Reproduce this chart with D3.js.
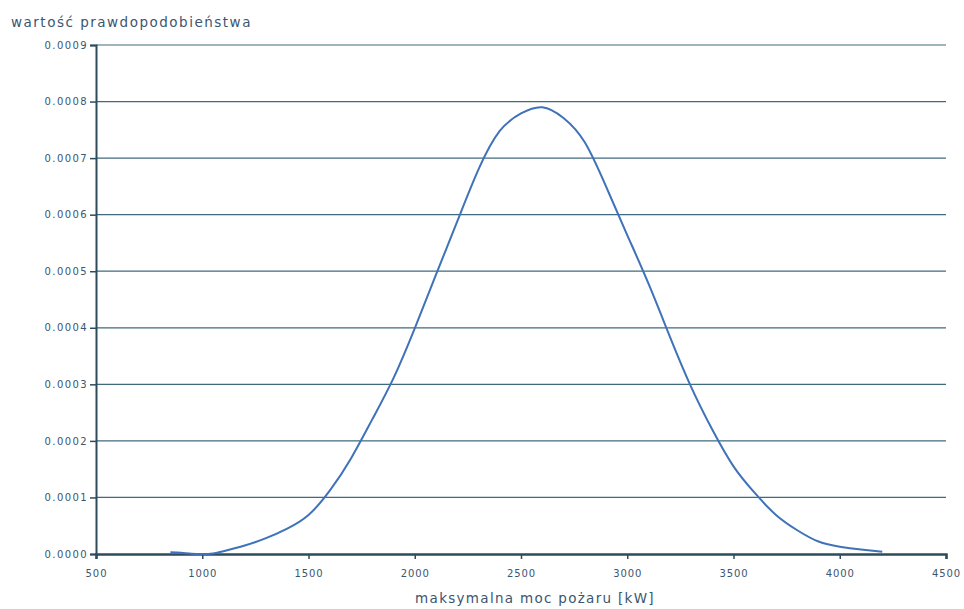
<!DOCTYPE html>
<html>
<head>
<meta charset="utf-8">
<script src="https://cdn.jsdelivr.net/npm/d3@7"></script>
<style>
  html, body { margin: 0; padding: 0; background: #ffffff; }
  svg { display: block; }
  text { font-family: "DejaVu Sans", sans-serif; fill: #3b5670; }
</style>
</head>
<body>
<div id="chart"></div>
<script>
// ---- data ----
const powerKW = [850, 900, 950, 1000, 1050, 1100, 1200, 1300, 1400, 1500,
                 1600, 1700, 1800, 1900, 2000, 2100, 2200, 2300, 2400, 2500,
                 2600, 2700, 2800, 2900, 3000, 3100, 3200, 3300, 3400, 3500,
                 3600, 3700, 3800, 3900, 4000, 4100, 4200];
const probability = [0.000003, 0.000002, 0.0000005, 0.0, 0.000001, 0.000005, 0.000015, 0.000028, 0.000045, 0.000069,
                     0.000112, 0.000169, 0.000238, 0.000311, 0.000399, 0.000494, 0.000588, 0.000680, 0.000748, 0.000779,
                     0.000790, 0.000771, 0.000728, 0.000650, 0.000564, 0.000478, 0.000385, 0.000296, 0.000220, 0.000155,
                     0.000108, 0.000069, 0.000042, 0.000022, 0.000013, 0.000008, 0.000004];
const xTicks = [500, 1000, 1500, 2000, 2500, 3000, 3500, 4000, 4500];
const yTicks = [0, 0.0001, 0.0002, 0.0003, 0.0004, 0.0005, 0.0006, 0.0007, 0.0008, 0.0009];
const yTitle = "wartość prawdopodobieństwa";
const xTitle = "maksymalna moc pożaru [kW]";

const W = 964, H = 609;
const m = { left: 96, right: 18, top: 45, bottom: 55 };

const svg = d3.select("#chart").append("svg").attr("width", W).attr("height", H);

const x = d3.scaleLinear().domain([500, 4500]).range([m.left, W - m.right]);
const y = d3.scaleLinear().domain([0, 0.0009]).range([H - m.bottom, m.top]);

// gridlines
svg.append("g")
  .selectAll("line")
  .data(yTicks.filter(d => d > 0))
  .join("line")
  .attr("x1", x(500)).attr("x2", x(4500))
  .attr("y1", d => y(d)).attr("y2", d => y(d))
  .attr("stroke", "#3f6a7e").attr("stroke-width", 1.2);

// y axis
const yAxis = svg.append("g")
  .attr("transform", `translate(${m.left},0)`)
  .call(d3.axisLeft(y).tickValues(yTicks).tickFormat(d3.format(".4f")).tickSize(6).tickPadding(2));
yAxis.select(".domain").attr("stroke", "#2c4b5c").attr("stroke-width", 2);
yAxis.selectAll(".tick line").attr("stroke", "#2c4b5c").attr("stroke-width", 1.5);
yAxis.selectAll("text").attr("font-size", 10).attr("letter-spacing", 1.4)
  .style("font-family", "'DejaVu Sans', sans-serif").attr("fill", "#3b5670");

// x axis
const xAxis = svg.append("g")
  .attr("transform", `translate(0,${y(0)})`)
  .call(d3.axisBottom(x).tickValues(xTicks).tickFormat(d3.format("d")).tickSize(5).tickPadding(11));
xAxis.select(".domain").attr("stroke", "#2c4b5c").attr("stroke-width", 2.5);
xAxis.selectAll(".tick line").attr("stroke", "#2c4b5c").attr("stroke-width", 1.5);
xAxis.selectAll("text").attr("font-size", 10).attr("letter-spacing", 0.9)
  .style("font-family", "'DejaVu Sans', sans-serif").attr("fill", "#3b5670");

// curve
const pts = powerKW.map((k, i) => [k, probability[i]]);
svg.append("path")
  .datum(pts)
  .attr("fill", "none")
  .attr("stroke", "#3f72b8")
  .attr("stroke-width", 2)
  .attr("d", d3.line().x(d => x(d[0])).y(d => y(d[1])).curve(d3.curveNatural));

// titles
svg.append("text")
  .attr("x", 11).attr("y", 27)
  .attr("font-size", 13.5).attr("letter-spacing", 1.5)
  .text(yTitle);
svg.append("text")
  .attr("x", 535).attr("y", 603)
  .attr("text-anchor", "middle")
  .attr("font-size", 13.5).attr("letter-spacing", 1.3)
  .text(xTitle);
</script>
</body>
</html>
